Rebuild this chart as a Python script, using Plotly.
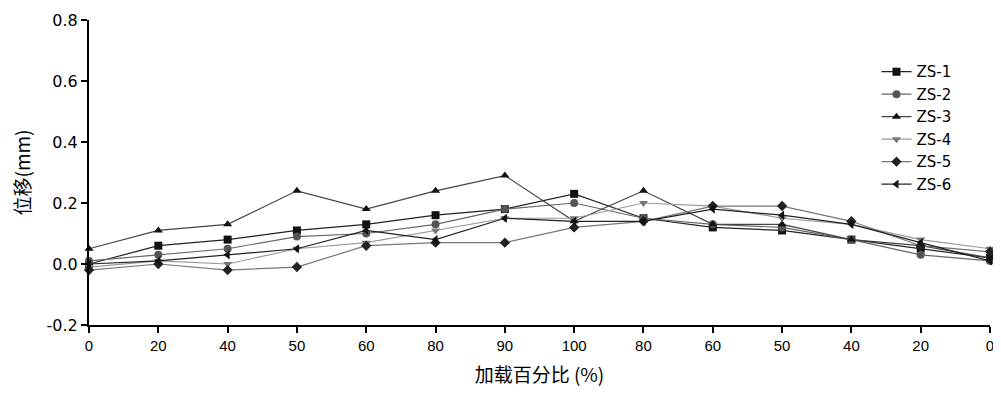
import plotly.graph_objects as go

x_labels = ["0", "20", "40", "50", "60", "80", "90", "100", "80", "60", "50", "40", "20", "0"]
series_names = ["ZS-1", "ZS-2", "ZS-3", "ZS-4", "ZS-5", "ZS-6"]
zs1 = [0.00, 0.06, 0.08, 0.11, 0.13, 0.16, 0.18, 0.23, 0.15, 0.12, 0.11, 0.08, 0.05, 0.02]
zs2 = [0.01, 0.03, 0.05, 0.09, 0.10, 0.13, 0.18, 0.20, 0.15, 0.13, 0.12, 0.08, 0.03, 0.01]
zs3 = [0.05, 0.11, 0.13, 0.24, 0.18, 0.24, 0.29, 0.14, 0.24, 0.13, 0.13, 0.08, 0.06, 0.02]
zs4 = [-0.01, 0.01, 0.00, 0.05, 0.07, 0.11, 0.15, 0.15, 0.20, 0.19, 0.15, 0.13, 0.08, 0.05]
zs5 = [-0.02, 0.00, -0.02, -0.01, 0.06, 0.07, 0.07, 0.12, 0.14, 0.19, 0.19, 0.14, 0.06, 0.04]
zs6 = [0.00, 0.01, 0.03, 0.05, 0.11, 0.08, 0.15, 0.14, 0.14, 0.18, 0.16, 0.13, 0.07, 0.01]
y_ticks = [-0.2, 0.0, 0.2, 0.4, 0.6, 0.8]
y_labels = ["-0.2", "0.0", "0.2", "0.4", "0.6", "0.8"]

all_series = [zs1, zs2, zs3, zs4, zs5, zs6]
symbols = ["square", "circle", "triangle-up", "triangle-down", "diamond", "triangle-left"]
marker_colors = ["#111111", "#555555", "#111111", "#777777", "#222222", "#111111"]
line_colors = ["#222222", "#666666", "#444444", "#999999", "#777777", "#222222"]

idx = list(range(len(x_labels)))

fig = go.Figure()
for name, ys, sym, mc, lc in zip(series_names, all_series, symbols, marker_colors, line_colors):
    fig.add_trace(go.Scatter(
        x=idx, y=ys, name=name, mode="lines+markers",
        line=dict(color=lc, width=1.2),
        marker=dict(symbol=sym, size=8, color=mc),
        cliponaxis=False,
    ))

cjk = "Noto Sans CJK SC, sans-serif"
fig.update_layout(
    width=1001, height=398,
    margin=dict(l=81, r=19, t=12, b=81, autoexpand=False),
    plot_bgcolor="white", paper_bgcolor="white",
    font=dict(family="Liberation Sans, Arial, sans-serif", color="black", size=15),
    showlegend=True,
    legend=dict(
        x=0.874, y=0.884, xanchor="left", yanchor="top",
        bgcolor="rgba(0,0,0,0)", font=dict(size=15, family="DejaVu Sans, sans-serif"),
        tracegroupgap=0, itemwidth=30,
    ),
    xaxis=dict(
        range=[0, 13], tickmode="array", tickvals=idx, ticktext=x_labels,
        automargin=False,
        showline=True, linecolor="black", linewidth=2,
        ticks="outside", ticklen=6, tickwidth=1.5, tickcolor="black",
        showgrid=False, zeroline=False,
        tickfont=dict(size=15),
        title=dict(text="加载百分比 (%)", font=dict(size=19, family=cjk), standoff=16),
    ),
    yaxis=dict(
        range=[-0.2, 0.8], tickmode="array", tickvals=y_ticks, ticktext=y_labels,
        automargin=False,
        showline=True, linecolor="black", linewidth=2,
        ticks="outside", ticklen=6, tickwidth=1.5, tickcolor="black",
        showgrid=False, zeroline=False,
        tickfont=dict(size=16, family="DejaVu Sans, sans-serif"),
        title=dict(text="位移(mm)", font=dict(size=19, family=cjk), standoff=13),
    ),
)

fig.write_html("out.html")
